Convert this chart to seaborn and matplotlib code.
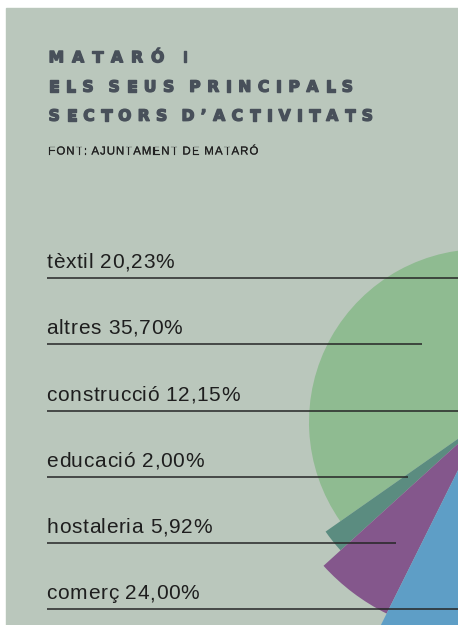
import matplotlib
matplotlib.use("Agg")
import matplotlib.pyplot as plt
import matplotlib.patheffects as pe
from matplotlib.patches import Wedge, Rectangle
import seaborn as sns

# dades
sectors = ["tèxtil", "altres", "construcció", "educació", "hostaleria", "comerç"]
shares = [20.23, 35.70, 12.15, 2.00, 5.92, 24.00]
pie_order = ["altres", "educació", "hostaleria", "comerç", "tèxtil", "construcció"]
title_lines = ["MATARÓ I", "ELS SEUS PRINCIPALS", "SECTORS D’ACTIVITATS"]
source = "FONT: AJUNTAMENT DE MATARÓ"

# estil
sector_colors = {"altres": "#8fbb91", "educació": "#5b8c80", "hostaleria": "#84578c",
                 "comerç": "#5e9ec6", "tèxtil": "#a3c49a", "construcció": "#6f9f8a"}
sector_radius = {"altres": 173, "educació": 191, "hostaleria": 214,
                 "comerç": 240, "tèxtil": 150, "construcció": 160}
panel_color = "#bac7bc"
title_color = "#48505a"

sns.set_theme(style="white")
plt.rcParams["font.family"] = ["Liberation Sans", "DejaVu Sans"]

W, H = 458, 625
fig = plt.figure(figsize=(W / 100, H / 100), dpi=100, facecolor="white")
ax = fig.add_axes([0, 0, 1, 1])
ax.set_xlim(0, W)
ax.set_ylim(0, H)
ax.axis("off")
renderer = fig.canvas.get_renderer()


def tracked(x0, ytop, text, width=None, T=0.0, word=2.2, **kw):
    # text lletra a lletra amb espaiat
    items = []
    for ch in text:
        if ch == " " and width is not None:
            items.append(None)
        else:
            items.append(ax.text(0, H - ytop, ch, ha="left", va="baseline", zorder=3, **kw))
    widths = [t.get_window_extent(renderer).width if t is not None else 0 for t in items]
    if width is not None:
        n_letters = sum(t is not None for t in items)
        n_spaces = len(items) - n_letters
        T = (width - sum(widths)) / ((n_letters - 1) + (word - 1) * n_spaces)
    x = x0
    for t, w in zip(items, widths):
        if t is None:
            x += (word - 1) * T
        else:
            t.set_x(x)
            x += w + T


# fons
ax.add_patch(Rectangle((6, -5), W, H - 8 + 5, color=panel_color, zorder=0))

# pastis (centre fora del quadre)
cx, cy = 482, H - 422
theta = 86.5
share_of = dict(zip(sectors, shares))
for name in pie_order:
    span = share_of[name] / 100 * 360
    ax.add_patch(Wedge((cx, cy), sector_radius[name], theta, theta + span,
                       facecolor=sector_colors[name], edgecolor="none", zorder=1))
    theta += span

# etiquetes i linies
line_y = [278.3, 344, 410.7, 476.7, 543.3, 609.3]
line_end = [W + 5, 421.7, W + 5, 408.3, 395.7, W + 5]
for name, val, y, xe in zip(sectors, shares, line_y, line_end):
    label = f"{name} {val:.2f}%".replace(".", ",")
    tracked(46.5, y - 10, label, T=0.65, fontsize=15, color="#1e1e1e")
    ax.plot([46.5, xe], [H - y, H - y], color="#262626", lw=1.1,
            solid_capstyle="butt", zorder=2)

# titol
heavy = [pe.withStroke(linewidth=1.0, foreground=title_color)]
title_base = [62.3, 91.7, 120.7]
title_width = [139.7, 305, 325]
for line, yb, wd in zip(title_lines, title_base, title_width):
    tracked(48.6, yb, line, width=wd - 0.6, word=2.2, fontsize=11.2, fontweight="bold",
            family=["DejaVu Sans"], color=title_color, path_effects=heavy)

tracked(48.3, 154.5, source, width=210, word=5.0, fontsize=8.3,
        family=["Liberation Sans", "DejaVu Sans"], color="#222222",
        path_effects=[pe.withStroke(linewidth=0.12, foreground="#222222")])

fig.savefig("out.png", dpi=100, facecolor="white")
